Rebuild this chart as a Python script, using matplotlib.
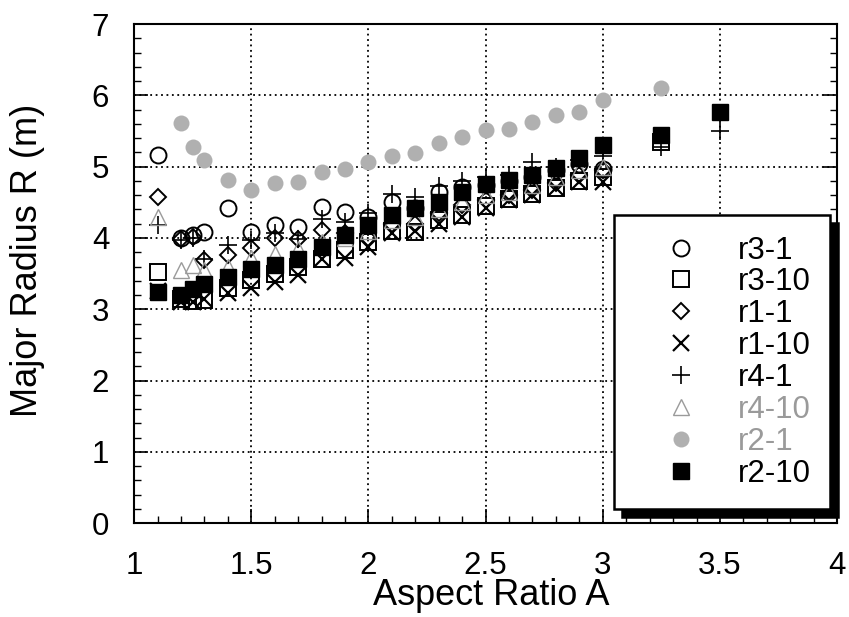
"""Major radius vs aspect ratio for the r1..r4 scan cases."""

import matplotlib
matplotlib.use("Agg")
import matplotlib.pyplot as plt
from matplotlib.ticker import MultipleLocator

plt.rcParams["font.family"] = ["Liberation Sans", "DejaVu Sans"]

# aspect ratio points shared by most runs
a_main = [1.1, 1.2, 1.25, 1.3, 1.4, 1.5, 1.6, 1.7, 1.8, 1.9, 2.0,
          2.1, 2.2, 2.3, 2.4, 2.5, 2.6, 2.7, 2.8, 2.9, 3.0]

r3_1 = [5.16, 4.00, 4.04, 4.09, 4.42, 4.09, 4.18, 4.16, 4.44, 4.37, 4.30,
        4.51, 4.42, 4.65, 4.72, 4.74, 4.80, 4.86, 4.96, 5.04, 4.97]

a_r3_10 = a_main + [3.25]
r3_10 = [3.52, 3.15, 3.12, 3.13, 3.30, 3.41, 3.50, 3.60, 3.70, 3.83, 3.95,
         4.10, 4.09, 4.25, 4.32, 4.45, 4.55, 4.62, 4.70, 4.80, 4.85, 5.35]

r1_1 = [4.58, 3.99, 4.02, 3.69, 3.76, 3.86, 4.00, 3.99, 4.11, 4.07, 4.00,
        4.20, 4.20, 4.35, 4.46, 4.53, 4.60, 4.67, 4.77, 4.88, 4.95]

r1_10 = [3.25, 3.10, 3.10, 3.15, 3.23, 3.30, 3.38, 3.48, 3.70, 3.72, 3.88,
         4.07, 4.10, 4.20, 4.30, 4.42, 4.53, 4.60, 4.70, 4.79, 4.79]

a_r4_1 = a_main + [3.25, 3.5]
r4_1 = [4.18, 3.97, 4.00, 3.70, 3.90, 3.97, 4.07, 3.99, 4.27, 4.23, 4.35,
        4.62, 4.58, 4.73, 4.80, 4.85, 4.88, 5.06, 5.00, 5.10, 5.15, 5.28, 5.50]

r4_10 = [4.30, 3.55, 3.62, 3.55, 3.60, 3.72, 3.78, 3.85, 3.95, 4.00, 4.10,
         4.25, 4.30, 4.40, 4.50, 4.60, 4.65, 4.75, 4.85, 4.95, 5.00]

a_r2_1 = a_main[1:] + [3.25]
r2_1 = [5.61, 5.27, 5.09, 4.82, 4.67, 4.77, 4.79, 4.93, 4.97, 5.06,
        5.15, 5.19, 5.33, 5.41, 5.51, 5.53, 5.63, 5.72, 5.77, 5.93, 6.10]

a_r2_10 = a_main + [3.25, 3.5]
r2_10 = [3.24, 3.20, 3.28, 3.36, 3.45, 3.56, 3.62, 3.71, 3.88, 4.04, 4.18,
         4.32, 4.42, 4.51, 4.65, 4.76, 4.81, 4.88, 4.98, 5.12, 5.30, 5.44, 5.77]

gray = "#9a9a9a"
dot_gray = "#b0b0b0"

fig = plt.figure(figsize=(8.49, 6.17), dpi=100)
ax = fig.add_axes([0.158, 0.152, 0.828, 0.809])

ax.plot(a_main, r3_1, "o", ls="none", ms=11.5, mfc="none", mec="black", mew=1.4, label="r3-1")
ax.plot(a_r3_10, r3_10, "s", ls="none", ms=11.5, mfc="none", mec="black", mew=1.4, label="r3-10")
ax.plot(a_main, r1_1, "D", ls="none", ms=8.5, mfc="none", mec="black", mew=1.4, label="r1-1")
ax.plot(a_main, r1_10, "x", ls="none", ms=12, mec="black", mew=1.6, label="r1-10")
ax.plot(a_r4_1, r4_1, "+", ls="none", ms=13, mec="black", mew=1.2, label="r4-1")
ax.plot(a_main, r4_10, "^", ls="none", ms=11.5, mfc="none", mec=gray, mew=1.0, label="r4-10")
ax.plot(a_r2_1, r2_1, "o", ls="none", ms=11.5, mfc=dot_gray, mec="none", label="r2-1")
ax.plot(a_r2_10, r2_10, "s", ls="none", ms=12, mfc="black", mec="black", label="r2-10")

ax.set_xlim(1, 4)
ax.set_ylim(0, 7)
ax.xaxis.set_major_locator(MultipleLocator(0.5))
ax.xaxis.set_minor_locator(MultipleLocator(0.1))
ax.yaxis.set_major_locator(MultipleLocator(1))
ax.yaxis.set_minor_locator(MultipleLocator(0.2))
ax.xaxis.set_major_formatter(plt.FuncFormatter(lambda v, p: f"{v:g}"))

ax.tick_params(which="both", direction="in", right=True, top=False)
ax.tick_params(which="major", length=10, width=1.2)
ax.tick_params(which="minor", length=5, width=1.0)
ax.tick_params(axis="x", which="major", labelsize=22.5, pad=20)
ax.tick_params(axis="y", which="major", labelsize=22.5, pad=18)
for s in ax.spines.values():
    s.set_linewidth(1.5)

ax.grid(True, which="major", color="black", linestyle=(0, (1, 2)), linewidth=1.3)

ax.set_xlabel("Aspect Ratio A", fontsize=26)
ax.set_ylabel("Major Radius R (m)", fontsize=26)
ax.xaxis.set_label_coords(0.508, -0.110)
ax.yaxis.set_label_coords(-0.127, 0.527)

leg = ax.legend(loc="upper left", bbox_to_anchor=(0.683, 0.0, 0.307, 0.617),
                mode="expand", fontsize=22.5, frameon=True, fancybox=False,
                edgecolor="black", framealpha=1, borderpad=0.65,
                handlelength=3.0, handletextpad=0.3, labelspacing=0.06,
                borderaxespad=0,
                shadow={"ox": 5.5, "oy": -5.5, "color": "black", "alpha": 1})
leg.get_frame().set_linewidth(1.8)
for txt in leg.get_texts():
    if txt.get_text() in ("r4-10", "r2-1"):
        txt.set_color(gray)

fig.savefig("out.png", dpi=100)
